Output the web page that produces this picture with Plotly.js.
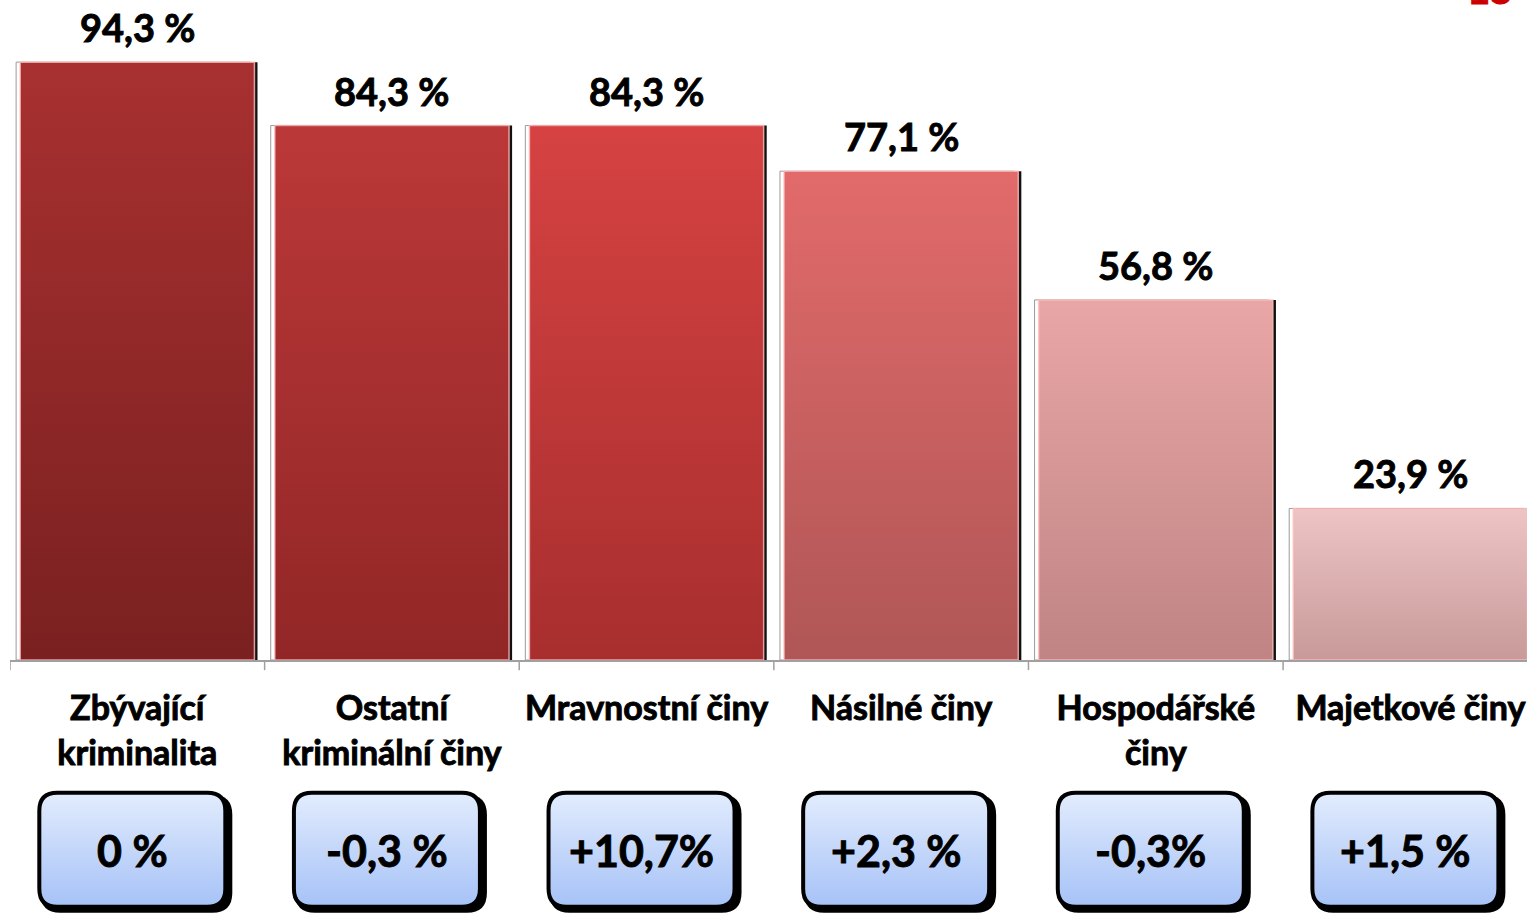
<!DOCTYPE html>
<html>
<head>
<meta charset="utf-8">
<script src="https://cdn.plot.ly/plotly-3.0.1.min.js"></script>
<style>
html,body{margin:0;padding:0;background:#fff;}
#chart{width:1527px;height:915px;}
#chart svg text{stroke:#000;stroke-width:0.9px;paint-order:stroke;}
</style>
</head>
<body>
<div id="chart"></div>
<script>
// ---- data ----
const categories = ["Zbývající<br>kriminalita", "Ostatní<br>kriminální činy", "Mravnostní činy", "Násilné činy", "Hospodářské<br>činy", "Majetkové činy"];
const shareValues = [94.3, 84.3, 84.3, 77.1, 56.8, 23.9];
const shareLabels = ["94,3 %", "84,3 %", "84,3 %", "77,1 %", "56,8 %", "23,9 %"];
const changeLabels = ["0 %", "-0,3 %", "+10,7%", "+2,3 %", "-0,3%", "+1,5 %"];

// ---- styles ----
const barTop = ["#a83030", "#bb3838", "#d64242", "#e26a6a", "#e9a6a6", "#eec4c4"];
const barBottom = ["#7a2020", "#922626", "#a82e2e", "#b05656", "#c08484", "#c89a9a"];
const barMid = ["#922828", "#a83030", "#c03a3a", "#cc6262", "#d69696", "#dcb0b0"];
const FONT = "Lato, 'Open Sans', sans-serif";

const idx = categories.map((_, i) => i);

function roundRect(w, h, r, dx, dy) {
  const x0 = -w / 2 + dx, x1 = w / 2 + dx, y0 = -h / 2 + dy, y1 = h / 2 + dy;
  return `M ${x0 + r} ${y0} L ${x1 - r} ${y0} Q ${x1} ${y0} ${x1} ${y0 + r} L ${x1} ${y1 - r} Q ${x1} ${y1} ${x1 - r} ${y1} L ${x0 + r} ${y1} Q ${x0} ${y1} ${x0} ${y1 - r} L ${x0} ${y0 + r} Q ${x0} ${y0} ${x0 + r} ${y0} Z`;
}

const boxY = -0.301;
const shapes = [];
idx.forEach(i => {
  shapes.push({type: "path", xref: "x", yref: "paper", xsizemode: "pixel", ysizemode: "pixel",
    xanchor: i, yanchor: boxY, path: roundRect(192, 118, 20, -1, -3),
    fillcolor: "#000", line: {width: 0}, layer: "above"});
  shapes.push({type: "path", xref: "x", yref: "paper", xsizemode: "pixel", ysizemode: "pixel",
    xanchor: i, yanchor: boxY, path: roundRect(186, 114, 18, -5, 1),
    fillcolor: "#c4d8fa", line: {width: 4, color: "#000"}, layer: "above"});
});

const annotations = idx.map(i => ({
  x: i, y: shareValues[i], xref: "x", yref: "y", text: shareLabels[i], showarrow: false,
  yanchor: "bottom", yshift: 10, font: {family: FONT, size: 38, color: "#000", weight: "bold"}
}));
idx.forEach(i => annotations.push({
  x: i, y: boxY, xref: "x", yref: "paper", text: changeLabels[i], showarrow: false,
  xshift: -5, yanchor: "middle", font: {family: FONT, size: 43, color: "#000", weight: "bold"}
}));
annotations.push({x: 0.992, y: 1.017, xref: "paper", yref: "paper", text: "15", showarrow: false,
  yanchor: "bottom", font: {family: FONT, size: 40, color: "#cc0000", weight: "bold"}});

const shadow = {
  type: "bar", x: idx, y: shareValues, width: 0.92, offset: -0.448,
  marker: {color: "#111", line: {width: 0}}, hoverinfo: "skip", showlegend: false
};
const edge = {
  type: "bar", x: idx, y: shareValues, width: 0.92, offset: -0.476,
  marker: {color: "rgba(0,0,0,0)", line: {width: 1, color: "#9a9a9a"}}, hoverinfo: "skip", showlegend: false
};
const bars = {
  type: "bar", x: idx, y: shareValues, width: 0.92, offset: -0.46,
  marker: {color: barMid, line: {width: 1.5, color: "rgba(255,190,190,0.8)"}},
  showlegend: false
};

const layout = {
  width: 1527, height: 915,
  margin: {l: 10, r: 0, t: 26, b: 255},
  paper_bgcolor: "#fff", plot_bgcolor: "#fff",
  barmode: "overlay",
  font: {family: FONT},
  xaxis: {
    type: "linear", range: [-0.5, 5.458], tickmode: "array", tickvals: idx, ticktext: categories,
    showgrid: false, zeroline: false, showline: true, linecolor: "#a0a0a0", linewidth: 1.5,
    ticks: "", tickfont: {family: FONT, size: 34, color: "#000", weight: "bold"},
    ticklabelstandoff: 18, fixedrange: true
  },
  yaxis: {range: [0, 100], visible: false, fixedrange: true},
  shapes: shapes,
  annotations: annotations
};

// boundary ticks
const boundaries = [];
for (let i = 0; i <= categories.length; i++) boundaries.push(i - 0.5);
boundaries.forEach(b => shapes.push({type: "line", xref: "x", yref: "paper", x0: b, x1: b, y0: 0, y1: -0.016,
  line: {color: "#a0a0a0", width: 1.5}}));

Plotly.newPlot("chart", [edge, shadow, bars], layout, {staticPlot: true}).then(gd => {
  const svg = gd.querySelector("svg.main-svg");
  const NS = "http://www.w3.org/2000/svg";
  let defs = svg.querySelector("defs");
  if (!defs) { defs = document.createElementNS(NS, "defs"); svg.insertBefore(defs, svg.firstChild); }
  function grad(id, c1, c2) {
    const g = document.createElementNS(NS, "linearGradient");
    g.setAttribute("id", id); g.setAttribute("x1", "0"); g.setAttribute("y1", "0");
    g.setAttribute("x2", "0"); g.setAttribute("y2", "1");
    [[0, c1], [1, c2]].forEach(([o, c]) => {
      const s = document.createElementNS(NS, "stop");
      s.setAttribute("offset", o); s.setAttribute("stop-color", c); g.appendChild(s);
    });
    defs.appendChild(g);
  }
  barTop.forEach((c, i) => grad("bg" + i, c, barBottom[i]));
  grad("boxg", "#e2ecfd", "#a6c2f7");
  const traces = gd.querySelectorAll(".barlayer .trace");
  if (traces.length > 2) {
    traces[2].querySelectorAll(".point path").forEach((p, i) => { p.style.fill = "url(#bg" + i + ")"; });
  }
  gd.querySelectorAll(".shapelayer path").forEach(p => {
    if (p.style.fill && p.style.fill.replace(/\s/g, "") === "rgb(196,216,250)") p.style.fill = "url(#boxg)";
  });
  gd.querySelectorAll("svg text").forEach(t => {
    const f = t.style.fill;
    if (f && f.replace(/\s/g, "") === "rgb(204,0,0)") t.style.stroke = "#cc0000";
  });
});
</script>
</body>
</html>
